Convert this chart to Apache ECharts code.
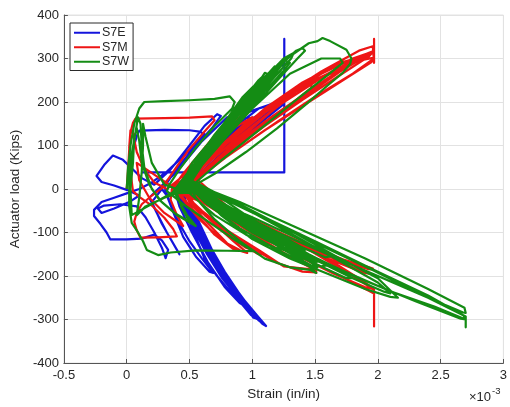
<!DOCTYPE html>
<html>
<head>
<meta charset="utf-8">
<script src="https://cdn.jsdelivr.net/npm/echarts@6/dist/echarts.min.js"></script>
<style>
  html, body { margin: 0; padding: 0; background: #ffffff; }
  #chart { width: 510px; height: 407px; }
</style>
</head>
<body>
<div id="chart"></div>
<script>
// Strain gauge readings (x10^-3 in/in) against actuator load (kips)
const seriesNames = ['S7E', 'S7M', 'S7W'];
const xTicks = [-0.5, 0, 0.5, 1, 1.5, 2, 2.5, 3];
const yTicks = [-400, -300, -200, -100, 0, 100, 200, 300, 400];

// S7E gauge
const s7e = [
[0.00,0],[0.02,40],[0.05,90],[0.08,122],[0.10,134],[0.30,136],[0.50,135],[0.58,132],[0.62,126],[0.55,105],[0.45,75],[0.32,40],[0.20,15],[0.10,0],
[0.00,-10],[-0.10,-20],[-0.20,-30],[-0.26,-48],[-0.26,-62],[-0.21,-80],[-0.16,-100],[-0.13,-116],[0.00,-116],[0.12,-114],[0.22,-105],[0.28,-118],[0.33,-140],[0.31,-159],[0.28,-135],[0.22,-100],[0.15,-65],[0.08,-40],[-0.05,-35],[-0.18,-38],[-0.23,-45],[-0.20,-55],[-0.10,-45],[0.02,-30],[0.10,-15],
[0.00,-2],[-0.10,8],[-0.20,16],[-0.24,30],[-0.18,55],[-0.11,77],[-0.03,67],[0.05,45],[0.12,25],[0.22,10],
[0.35,45],[0.50,100],[0.62,145],[0.72,172],[0.75,168],[0.68,140],[0.52,90],[0.38,40],[0.30,5],
[0.35,-35],[0.42,-80],[0.50,-120],[0.60,-160],[0.69,-193],[0.66,-190],[0.55,-155],[0.45,-110],[0.38,-60],[0.32,-15],[0.28,0],
[0.20,-30],[0.28,-80],[0.36,-120],[0.42,-150],[0.40,-140],[0.32,-100],[0.24,-55],[0.18,-20],[0.25,0],
[0.40,40],[0.60,110],[0.80,165],[1.06,162],[0.95,140],[0.75,95],[0.55,45],[0.40,10],
[0.45,-40],[0.55,-110],[0.62,-160],[0.72,-200],[0.85,-245],[0.95,-270],[0.90,-262],[0.78,-225],[0.65,-170],[0.52,-100],[0.42,-40],[0.38,0],
[0.55,55],[0.75,120],[0.95,175],[1.20,200],[1.25,195],[1.10,160],[0.90,110],[0.65,50],[0.45,5],
[0.48,-45],[0.58,-105],[0.70,-165],[0.82,-215],[0.92,-250],[0.88,-248],[0.76,-205],[0.64,-150],[0.52,-85],[0.42,-20],
[0.55,-60],[0.68,-140],[0.82,-210],[0.96,-265],[1.06,-300],[1.03,-298],[0.90,-255],[0.75,-195],[0.62,-130],[0.50,-65],[0.42,-10],
[0.50,40],[0.70,100],[0.92,150],[1.15,185],[1.10,170],[0.90,125],[0.68,70],[0.48,15],
[0.52,-60],[0.66,-140],[0.80,-210],[0.94,-265],[1.04,-298],[1.01,-296],[0.88,-250],[0.74,-190],[0.60,-120],[0.48,-45],
[0.50,-55],[0.62,-125],[0.76,-195],[0.90,-255],[1.02,-292],[0.99,-290],[0.86,-245],[0.72,-180],[0.58,-110],[0.47,-45],[0.40,0],
[0.50,-50],[0.60,-110],[0.72,-170],[0.85,-225],[1.00,-280],[1.08,-305],[1.05,-302],[0.92,-260],[0.78,-205],[0.64,-145],[0.52,-80],[0.44,-25],[0.40,0],
[0.60,60],[0.85,130],[1.10,180],[1.25,205],[1.20,190],[1.00,140],[0.75,80],[0.50,15],
[0.52,-50],[0.64,-120],[0.78,-190],[0.92,-250],[1.05,-295],[1.11,-315],[1.08,-310],[0.95,-270],[0.80,-210],[0.66,-145],[0.55,-80],[0.45,-20],[0.40,5],
[0.60,65],[0.85,140],[1.05,185],[1.255,200],[1.255,345],[1.255,292],[1.21,287],[1.255,282],[1.255,38],[0.115,38]
];

// S7M gauge
const s7m = [
[0.00,0],[0.01,40],[0.02,90],[0.03,130],[0.05,152],[0.07,162],[0.30,163],[0.50,164],[0.68,167],[0.70,158],[0.62,132],[0.50,92],[0.40,52],[0.32,18],[0.28,2],
[0.20,-15],[0.12,-35],[0.08,-55],[0.06,-75],[0.08,-95],[0.11,-112],[0.25,-111],[0.40,-109],[0.37,-92],[0.30,-66],[0.20,-38],[0.10,-18],[0.05,-5],[0.03,40],[0.02,95],[0.03,135],[0.05,128],[0.08,85],[0.14,45],[0.22,15],[0.32,0],
[0.45,30],[0.65,85],[0.85,140],[1.00,165],[0.97,158],[0.82,118],[0.62,62],[0.46,18],[0.40,2],
[0.50,-25],[0.68,-75],[0.85,-120],[0.96,-147],[0.90,-142],[0.76,-118],[0.58,-70],[0.44,-22],[0.36,0],
[0.45,35],[0.65,105],[0.85,170],[0.93,200],[0.97,195],[0.90,165],[0.72,110],[0.52,45],[0.42,8],
[0.50,-30],[0.65,-80],[0.80,-125],[0.90,-140],[0.85,-138],[0.70,-105],[0.55,-55],[0.42,-10],
[0.60,-30],[0.85,-75],[1.10,-120],[1.30,-155],[1.50,-186],[1.45,-184],[1.25,-178],[1.05,-140],[0.80,-95],[0.60,-50],[0.45,-10],[0.38,2],
[0.08,60],[0.10,20],[0.18,-20],[0.30,-55],[0.45,-85],[0.40,-60],[0.35,-25],[0.36,0],
[0.50,30],[0.70,85],[0.95,150],[1.20,205],[1.25,208],[1.20,190],[1.00,140],[0.78,85],[0.58,35],[0.45,5],
[0.55,-40],[0.75,-95],[0.95,-135],[1.10,-150],[1.05,-150],[0.85,-115],[0.62,-60],[0.45,-10],
[0.65,-30],[0.90,-70],[1.20,-115],[1.50,-165],[1.51,-192],[1.40,-190],[1.20,-170],[1.00,-136],[0.80,-100],[0.60,-55],[0.45,-10],[0.36,0],
[0.50,35],[0.75,100],[1.00,160],[1.25,210],[1.45,240],[1.48,235],[1.35,205],[1.10,155],[0.85,100],[0.62,45],[0.46,8],
[0.70,-30],[1.00,-75],[1.35,-120],[1.70,-160],[1.93,-180],[1.96,-183],[1.90,-182],[1.65,-160],[1.30,-115],[0.95,-70],[0.65,-25],[0.45,5],
[0.45,25],[0.75,100],[1.05,170],[1.35,230],[1.60,265],[1.75,280],[1.70,272],[1.45,225],[1.15,165],[0.85,100],[0.60,40],[0.45,5],
[0.70,-30],[1.05,-80],[1.40,-125],[1.70,-160],[1.80,-170],[1.75,-168],[1.45,-135],[1.10,-90],[0.75,-40],[0.50,-2],
[0.55,40],[0.80,105],[1.10,175],[1.40,235],[1.65,270],[1.78,292],[1.76,282],[1.60,250],[1.35,200],[1.05,140],[0.78,80],[0.55,25],[0.42,2],
[0.70,-35],[1.05,-85],[1.45,-140],[1.80,-200],[1.96,-230],[1.90,-226],[1.65,-195],[1.30,-145],[0.95,-90],[0.65,-35],[0.45,0],
[0.50,30],[0.80,110],[1.10,185],[1.40,245],[1.70,290],[1.88,305],[1.85,298],[1.60,255],[1.30,195],[1.00,130],[0.72,65],[0.50,15],
[0.75,-35],[1.10,-85],[1.45,-130],[1.75,-165],[1.90,-178],[1.85,-176],[1.55,-145],[1.20,-100],[0.85,-55],[0.55,-10],
[0.55,35],[0.85,110],[1.20,190],[1.55,255],[1.85,295],[1.97,302],[1.95,292],[1.75,255],[1.45,200],[1.10,135],[0.80,75],[0.55,20],[0.42,0],
[0.75,-40],[1.15,-95],[1.55,-145],[1.85,-175],[1.96,-185],[1.92,-184],[1.70,-165],[1.35,-125],[1.00,-80],[0.70,-35],[0.48,0],
[0.55,45],[0.90,130],[1.25,210],[1.55,265],[1.80,300],[1.95,315],[1.92,308],[1.70,270],[1.40,215],[1.10,150],[0.80,85],[0.55,25],
[0.80,-40],[1.15,-90],[1.50,-140],[1.80,-180],[1.94,-195],[1.88,-192],[1.60,-160],[1.25,-115],[0.90,-65],[0.60,-15],[0.44,0],
[0.55,38],[0.90,120],[1.25,200],[1.60,265],[1.90,310],[1.97,318],[1.93,305],[1.70,262],[1.40,205],[1.10,145],[0.80,80],[0.55,20],[0.44,0],
[0.80,-45],[1.20,-100],[1.60,-160],[1.90,-215],[1.97,-231],[1.97,-316],[1.97,-240],[1.80,-215],[1.45,-165],[1.10,-115],[0.75,-55],[0.50,-5],
[0.50,40],[0.85,125],[1.20,205],[1.55,270],[1.85,318],[1.96,328],[1.97,290],[1.97,345],[1.97,300],[1.80,265],[1.50,212],[1.20,155],[0.90,95],[0.62,38],[0.45,5],[0.40,0]
];

// S7W gauge
const s7w = [
[0.00,0],[0.01,45],[0.03,100],[0.06,150],[0.10,185],[0.14,200],[0.30,202],[0.50,204],[0.70,207],[0.82,213],[0.86,200],[0.84,185],
[0.70,145],[0.55,95],[0.42,45],[0.34,10],[0.32,-5],
[0.45,-35],[0.65,-75],[0.85,-115],[1.01,-143],[0.80,-142],[0.55,-141],[0.35,-146],[0.25,-152],[0.16,-140],[0.13,-120],
[0.08,-95],[0.04,-78],[0.02,-40],[0.02,20],[0.04,80],[0.07,130],[0.09,165],[0.11,150],[0.12,100],[0.14,50],[0.20,0],[0.28,-30],[0.40,-60],[0.55,-85],[0.48,-60],[0.42,-30],[0.38,-5],
[0.50,40],[0.65,100],[0.82,170],[0.92,210],[1.01,236],[1.04,232],[1.00,215],[0.85,170],[0.68,115],[0.52,60],[0.45,15],
[0.62,-25],[0.85,-60],[1.05,-95],[1.20,-125],[1.25,-140],[1.18,-135],[0.95,-105],[0.70,-60],[0.52,-15],[0.45,5],
[0.04,-60],[0.03,0],[0.05,60],[0.06,120],[0.08,140],[0.10,110],[0.12,60],[0.18,10],[0.26,-25],[0.38,-55],[0.50,-75],[0.44,-45],[0.40,-10],
[0.40,-5],[0.55,50],[0.75,125],[0.95,200],[1.10,267],[1.13,263],[1.12,248],[1.00,210],[0.82,150],[0.62,80],[0.50,25],[0.48,10],
[0.70,-25],[1.00,-75],[1.30,-130],[1.50,-170],[1.52,-180],[1.47,-176],[1.25,-140],[0.95,-85],[0.65,-30],[0.52,5],
[0.75,-40],[1.05,-85],[1.30,-120],[1.42,-140],[1.38,-142],[1.15,-112],[0.85,-65],[0.58,-15],[0.48,8],
[0.40,-5],[0.62,80],[0.85,165],[1.05,235],[1.12,255],[1.08,245],[0.92,190],[0.72,120],[0.55,55],[0.48,15],
[0.75,-30],[1.05,-80],[1.30,-125],[1.45,-150],[1.40,-150],[1.15,-115],[0.85,-65],[0.60,-15],[0.50,5],
[0.72,-30],[1.00,-65],[1.30,-105],[1.55,-140],[1.62,-155],[1.58,-157],[1.30,-122],[1.00,-82],[0.70,-35],[0.52,5],
[0.38,-8],[0.55,55],[0.80,150],[1.05,240],[1.18,282],[1.20,276],[1.16,262],[1.00,210],[0.80,140],[0.60,70],[0.50,20],[0.54,10],
[0.80,-30],[1.10,-90],[1.35,-150],[1.51,-193],[1.46,-186],[1.30,-180],[1.10,-160],[0.90,-120],[0.70,-70],[0.55,-20],[0.50,8],
[0.40,0],[0.60,75],[0.85,170],[1.05,245],[1.10,255],[1.07,248],[0.90,190],[0.68,110],[0.50,35],
[0.38,-5],[0.58,75],[0.80,160],[1.00,230],[1.15,272],[1.12,262],[0.95,205],[0.75,135],[0.56,60],[0.47,15],
[0.78,-35],[1.10,-90],[1.35,-135],[1.55,-165],[1.50,-168],[1.25,-135],[0.95,-85],[0.65,-28],[0.50,5],
[0.80,-45],[1.10,-100],[1.35,-145],[1.50,-175],[1.46,-176],[1.20,-140],[0.90,-90],[0.62,-30],[0.50,5],
[0.40,-5],[0.60,70],[0.85,160],[1.10,255],[1.25,300],[1.33,313],[1.31,300],[1.20,265],[1.02,205],[0.80,130],[0.62,65],[0.52,20],[0.55,12],
[0.85,-30],[1.20,-85],[1.60,-150],[2.00,-215],[2.10,-240],[2.05,-236],[1.80,-205],[1.45,-155],[1.05,-95],[0.70,-40],[0.52,10],
[0.42,-8],[0.64,85],[0.88,175],[1.10,250],[1.22,285],[1.18,275],[1.00,215],[0.80,145],[0.60,70],[0.50,20],
[0.80,-40],[1.10,-95],[1.40,-145],[1.60,-175],[1.55,-178],[1.30,-145],[1.00,-100],[0.72,-45],[0.52,0],
[0.45,5],[0.70,100],[0.95,200],[1.15,265],[1.25,290],[1.22,280],[1.05,220],[0.80,140],[0.58,55],[0.48,12],
[0.85,-50],[1.20,-110],[1.50,-160],[1.80,-205],[1.75,-205],[1.45,-165],[1.10,-115],[0.75,-55],[0.52,0],
[0.38,-10],[0.62,75],[0.90,175],[1.15,265],[1.35,318],[1.40,324],[1.42,318],[1.36,300],[1.20,250],[1.00,185],[0.78,115],[0.60,55],[0.52,20],[0.56,12],
[0.90,-35],[1.30,-95],[1.70,-160],[2.00,-205],[2.16,-250],[2.10,-248],[1.90,-230],[1.60,-195],[1.30,-160],[1.00,-115],[0.75,-60],[0.55,0],
[0.36,-12],[0.55,60],[0.78,150],[0.98,225],[1.08,258],[1.05,250],[0.90,195],[0.70,125],[0.52,50],[0.45,10],
[0.70,-30],[1.00,-70],[1.25,-110],[1.40,-135],[1.36,-138],[1.10,-105],[0.80,-55],[0.55,-8],
[0.36,-10],[0.60,80],[0.90,190],[1.20,285],[1.45,335],[1.52,340],[1.56,347],[1.62,340],[1.75,320],[1.79,300],[1.78,288],[1.72,267],[1.60,238],[1.43,195],[1.20,140],[0.95,85],[0.70,35],[0.55,10],
[0.90,-30],[1.40,-95],[1.90,-160],[2.40,-230],[2.69,-273],[2.70,-285],[2.68,-284],[2.40,-250],[2.00,-200],[1.60,-150],[1.20,-100],[0.85,-50],[0.60,0],
[0.40,-8],[0.65,85],[0.95,190],[1.22,270],[1.28,293],[1.30,290],[1.25,272],[1.10,225],[0.90,160],[0.70,95],[0.55,40],[0.50,15],
[0.90,-40],[1.40,-110],[1.95,-185],[2.40,-250],[2.70,-293],[2.70,-318],[2.70,-300],[2.45,-270],[2.10,-235],[1.70,-185],[1.30,-130],[0.95,-75],[0.65,-20],[0.55,5],
[0.42,-5],[0.70,90],[1.00,185],[1.30,265],[1.55,300],[1.70,300],[1.72,290],[1.60,262],[1.35,205],[1.05,135],[0.75,65],[0.55,15],
[0.95,-45],[1.50,-120],[2.00,-190],[2.40,-245],[2.68,-290],[2.70,-300],[2.66,-298],[2.30,-258],[1.85,-205],[1.40,-150],[1.00,-95],[0.70,-40],[0.50,0],
[0.30,-20],[0.15,-40],[0.08,-60],[0.10,-20],[0.12,40],[0.13,100],[0.13,150],[0.15,120],[0.20,60],[0.30,10],[0.40,0]
];

const colors = ['#1414dc', '#ee1515', '#148c14'];
const gaugeData = [s7e, s7m, s7w];
const fontFamily = 'Liberation Sans, Arial, sans-serif';

const chart = echarts.init(document.getElementById('chart'), null, { renderer: 'canvas' });

chart.setOption({
  animation: false,
  backgroundColor: '#ffffff',
  color: colors,
  grid: {
    left: 63, right: 6, top: 15, bottom: 44,
    show: true, borderColor: '#e2e2e2', borderWidth: 1
  },
  legend: {
    data: seriesNames,
    orient: 'vertical',
    left: 70, top: 23,
    padding: [3, 4, 2, 4],
    itemGap: 1,
    itemWidth: 26, itemHeight: 2,
    icon: 'rect',
    backgroundColor: '#ffffff',
    borderColor: '#2a2a2a', borderWidth: 1, borderRadius: 0,
    textStyle: { fontFamily: fontFamily, fontSize: 12.5, color: '#262626', lineHeight: 13.5, padding: [0, 0, 0, -3] }
  },
  xAxis: {
    type: 'value',
    min: xTicks[0], max: xTicks[xTicks.length - 1], interval: 0.5,
    name: 'Strain (in/in)', nameLocation: 'middle', nameGap: 23,
    nameTextStyle: { fontFamily: fontFamily, fontSize: 13.5, color: '#262626' },
    axisLine: { onZero: false, lineStyle: { color: '#555555', width: 1 } },
    axisTick: { show: true, inside: true, length: 4, lineStyle: { color: '#555555' } },
    axisLabel: { fontFamily: fontFamily, fontSize: 13, color: '#262626', margin: 6,
      formatter: v => String(v) },
    splitLine: { show: true, lineStyle: { color: '#e2e2e2', width: 1 } }
  },
  yAxis: {
    type: 'value',
    min: yTicks[0], max: yTicks[yTicks.length - 1], interval: 100,
    name: 'Actuator load (Kips)', nameLocation: 'middle', nameGap: 29,
    nameTextStyle: { fontFamily: fontFamily, fontSize: 13.5, color: '#262626' },
    axisLine: { onZero: false, lineStyle: { color: '#555555', width: 1 } },
    axisTick: { show: true, inside: true, length: 4, lineStyle: { color: '#555555' } },
    axisLabel: { fontFamily: fontFamily, fontSize: 13, color: '#262626', margin: 5 },
    splitLine: { show: true, lineStyle: { color: '#e2e2e2', width: 1 } }
  },
  graphic: [{
    type: 'text',
    left: 469, top: 386,
    style: {
      text: '{a|\u00d710}{b|-3}',
      fill: '#262626',
      rich: {
        a: { fontFamily: fontFamily, fontSize: 13, color: '#262626', verticalAlign: 'bottom', lineHeight: 18 },
        b: { fontFamily: fontFamily, fontSize: 9.5, color: '#262626', verticalAlign: 'top', lineHeight: 18, padding: [0, 0, 8, 1] }
      }
    }
  }],
  series: seriesNames.map((name, i) => ({
    name: name,
    type: 'line',
    data: gaugeData[i],
    showSymbol: false,
    symbol: 'none',
    smooth: false,
    clip: true,
    lineStyle: { width: 2.2, color: colors[i], join: 'round' },
    itemStyle: { color: colors[i] },
    z: 2 + i
  }))
});
</script>
</body>
</html>
